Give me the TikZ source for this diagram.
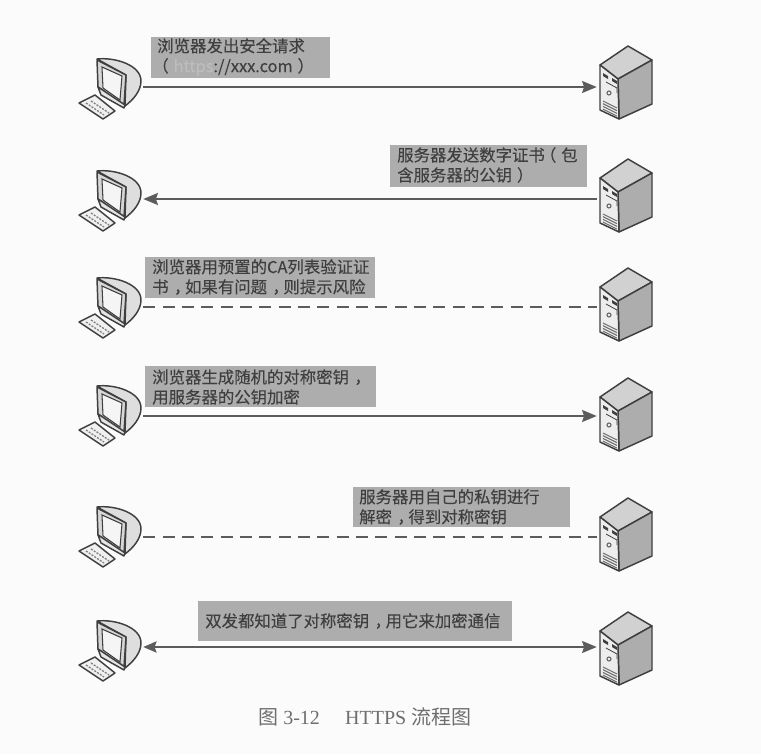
\documentclass[tikz,border=0pt]{standalone}
\usepackage{fontspec}
\usetikzlibrary{arrows.meta}
\setmainfont{Liberation Serif}
\setsansfont{Liberation Sans}
\newfontfamily\cjk[FakeBold=0.2]{Noto Sans CJK SC}
\newfontfamily\cjkplain{Noto Sans CJK SC}
\newcommand{\zcomma}{\kern.33em，\kern-.33em}
\newcommand{\zopen}{\kern-.3em（\kern.3em}
\newcommand{\zclose}{\kern.3em）\kern-.3em}
\definecolor{boxgray}{HTML}{ADADAD}
\definecolor{ink}{HTML}{3F3F3F}
\definecolor{linegray}{HTML}{5C5C5C}
\definecolor{capgray}{HTML}{6E6E6E}
\tikzset{
  note/.style={text=ink,anchor=west,align=left,inner sep=0pt,font=\cjk\fontsize{12.3}{15}\selectfont},
  plate/.style={fill=boxgray,anchor=north west,inner sep=0pt},
  endpt/.style={inner sep=0pt,minimum size=0pt},
  link/.style={draw=linegray,line width=1.1pt},
  dashlink/.style={link,dash pattern=on 9pt off 5.5pt},
  arrowto/.style={-{Stealth[length=11pt,width=9pt,inset=1.5pt]}},
  arrowboth/.style={{Stealth[length=10pt,width=8.5pt,inset=1.5pt]}-{Stealth[length=11pt,width=9pt,inset=1.5pt]}},
  hollow/.style={draw=ink,line width=1.1pt,line join=round},
  pics/computer/.style={code={
    \draw[hollow,fill=white!87!black] (-46,-28) .. controls (-28,-30) and (-2,-22) .. (-2,-6) .. controls (-2,4) and (-10,13) .. (-18,19) -- (-17,-12) -- cycle;
    \draw[hollow,fill=white!84!black] (-46,-27) -- (-17,-12) -- (-19,18) -- (-45,0) -- cycle;
    \draw[draw=ink,line width=.8pt,fill=white!96!black] (-41,-20) -- (-21,-11) -- (-23,13) -- (-40,1) -- cycle;
    \draw[hollow,fill=white!90!black] (-45,0) -- (-42,8) -- (-19,21) -- (-18,18) -- cycle;
    \draw[hollow,fill=white!94!black] (-64,16) -- (-48,8) -- (-28,24) -- (-40,32) -- cycle;
    \draw[gray,line width=1pt,dash pattern=on 1.5pt off 1pt] (-57,16) -- (-39,28);
    \draw[gray,line width=1pt,dash pattern=on 1.5pt off 1pt] (-52,14) -- (-34,26);
  }},
  pics/server/.style={code={
    \draw[hollow,fill=white!82!black] (0,19) -- (28,0) -- (52,14) -- (18,33) -- cycle;
    \draw[hollow,fill=white!68!black] (18,33) -- (52,14) -- (52,58) -- (19,73) -- cycle;
    \draw[hollow,fill=white!93!black] (0,19) -- (18,33) -- (19,73) -- (0,64) -- cycle;
    \fill[ink] (3,27) -- (8,30) -- (8,33) -- (3,30) -- cycle;
    \fill[ink] (12,32) -- (17,35) -- (17,38) -- (12,35) -- cycle;
    \draw[ink,line width=.6pt] (6,36) -- (17,42) -- (17,47);
    \draw[ink!80,line width=.8pt] (9,47) circle (2);
    \foreach \d in {0,2.7,5.4,8.1} \draw[ink!75,line width=.8pt] (3,55+\d) -- (17,62+\d);
  }}
}
\begin{document}
\begin{tikzpicture}[x=0.75pt,y=-0.75pt]
\useasboundingbox (0,0) rectangle (761,754);
\fill[white!98.5!black] (0,0) rectangle (761,754);
% connector ends
\foreach \n/\yy in {1/87,2/199,3/307,4/416,5/537,6/647}{
  \node[endpt] (c\n) at (143,\yy) {};
  \node[endpt] (s\n) at (597,\yy) {};
}
% computers
\foreach \yy in {87,199,306,414,535,649}{
  \pic at (143,\yy) {computer};
}
% servers
\foreach \yy in {46,159,268,378,498,612}{
  \pic at (600,\yy) {server};
}
% notes
\node[plate,minimum width=134.25pt,minimum height=30.75pt] (b1) at (151,37) {};
\node[note] (t1) at (157,57) {浏览器发出安全请求\\\zopen\textcolor{white!74!black}{https}://xxx.com\zclose};
\node[plate,minimum width=147.75pt,minimum height=31.5pt] (b2) at (390,145) {};
\node[note] (t2) at (397,165) {服务器发送数字证书\zopen 包\\含服务器的公钥\zclose};
\node[plate,minimum width=172.5pt,minimum height=30.75pt] (b3) at (145,257) {};
\node[note] (t3) at (152,277) {浏览器用预置的CA列表验证证\\书\zcomma 如果有问题\zcomma 则提示风险};
\node[plate,minimum width=173.25pt,minimum height=30.75pt] (b4) at (145,366) {};
\node[note] (t4) at (152,387) {浏览器生成随机的对称密钥\zcomma\\用服务器的公钥加密};
\node[plate,minimum width=162.75pt,minimum height=30pt] (b5) at (353,487) {};
\node[note] (t5) at (359,507) {服务器用自己的私钥进行\\解密\zcomma 得到对称密钥};
\node[plate,minimum width=235.5pt,minimum height=30pt] (b6) at (198,601) {};
\node[note] (t6) at (205,621) {双发都知道了对称密钥\zcomma 用它来加密通信};
% connectors
\draw[link,arrowto] (c1) -- (s1);
\draw[link,arrowto] (s2) -- (c2);
\draw[dashlink] (c3) -- (s3);
\draw[link,arrowto] (c4) -- (s4);
\draw[dashlink] (c5) -- (s5);
\draw[link,arrowboth] (c6) -- (s6);
% caption
\node[text=capgray,anchor=west,inner sep=0pt,font=\fontsize{15}{18}\selectfont] (cap) at (258,717) {{\cjkplain 图} 3-12\hspace{19pt}HTTPS {\cjkplain 流程图}};
\end{tikzpicture}
\end{document}
